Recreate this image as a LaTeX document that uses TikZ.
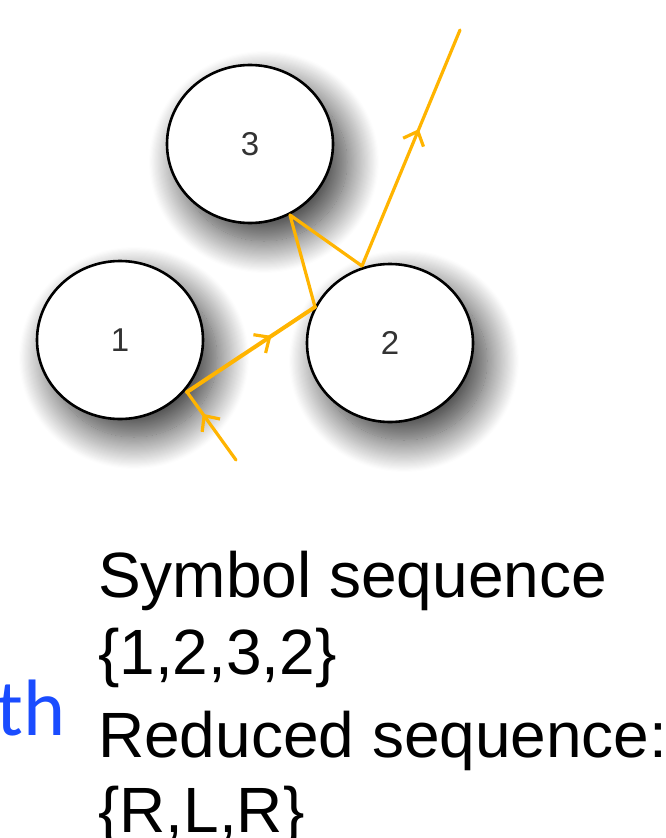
\documentclass[tikz,border=0pt]{standalone}
\usepackage{fontspec}
\setmainfont{Liberation Sans}
\newfontfamily\tailfont{Carlito}
\usetikzlibrary{shapes.geometric,shadows.blur,decorations.markings,arrows.meta}
\definecolor{ray}{RGB}{255,180,0}
\definecolor{linkblue}{RGB}{26,76,255}
\begin{document}
\begin{tikzpicture}[x=1pt,y=-1pt,
  disc/.style={ellipse, draw=black, line width=2.6pt, fill=white,
    minimum width=166pt, minimum height=158pt, inner sep=0pt,
    font=\fontsize{33}{33}\selectfont, text=black!80,
    blur shadow={shadow xshift=14pt, shadow yshift=-18pt,
      shadow blur radius=32pt, shadow blur steps=30, shadow opacity=80}},
  raypath/.style={draw=ray, line width=3.2pt, line join=round, line cap=round},
  midarrow/.style={postaction={decorate}, decoration={markings,
    mark=at position #1 with {\arrow[ray]{Straight Barb[length=12pt,width=22pt,line width=3.2pt]}}}},
  seqtext/.style={anchor=base west, inner sep=0pt, font=\fontsize{64}{64}\selectfont}
]
\useasboundingbox (0,0) rectangle (666,838);

% the three scatterers
\node[disc] (d3) at (250,144) {3};
\node[disc] (d1) at (120,340) {1};
\node[disc] (d2) at (390,343) {2};

% bounce points of the trajectory
\coordinate (start) at (236,460);
\coordinate (b1) at (187,392);
\coordinate (b2) at (315,307);
\coordinate (b3) at (290,215);
\coordinate (b4) at (362,266);
\coordinate (exit) at (460,30);

\draw[raypath, midarrow=0.68] (start) -- (b1);
\draw[raypath, line width=4pt, midarrow=0.66] (b1) -- (b2);
\draw[raypath] (b2) -- (b3) -- (b4);
\draw[raypath, midarrow=0.58] (b4) -- (exit);

% sequence text
\node[seqtext] (l1) at (98,597) {Symbol sequence};
\node[seqtext] (l2) at (98,674) {\{1,2,3,2\}};
\node[seqtext] (l3) at (98,757) {Reduced sequence:};
\node[seqtext] (l4) at (98,832) {\{R,L,R\}};
\node[anchor=base east, inner sep=0pt, text=linkblue,
  font=\tailfont\fontsize{80}{80}\selectfont] (tail) at (66,735) {th};
\end{tikzpicture}
\end{document}
